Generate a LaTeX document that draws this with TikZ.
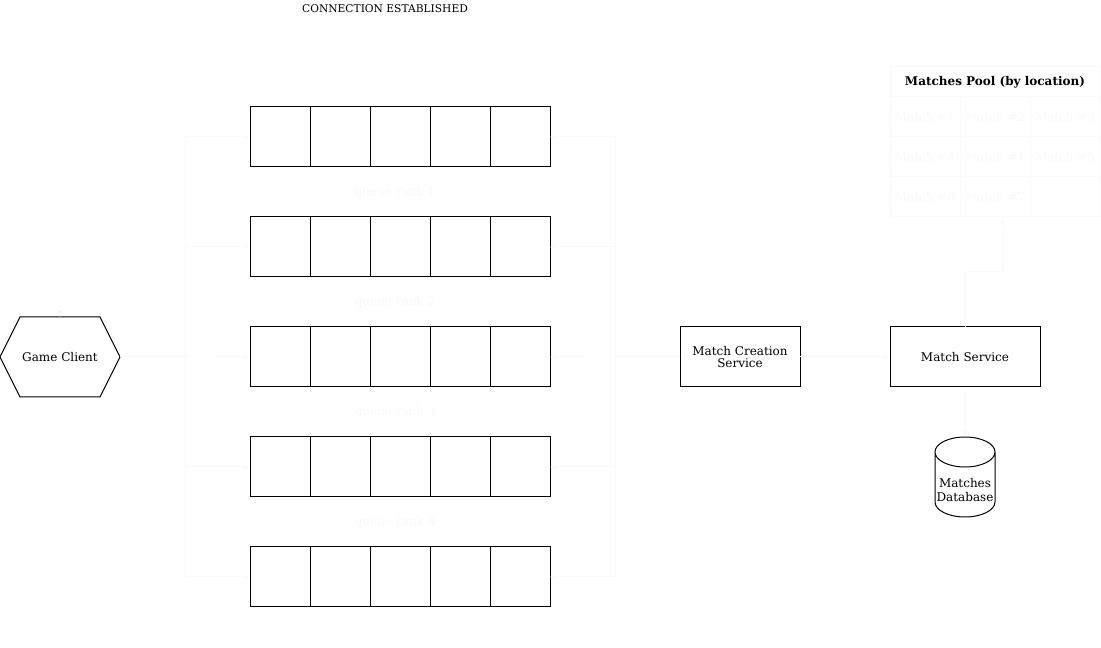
\documentclass[tikz,border=0pt]{standalone}
\usepackage{fontspec}
\setmainfont{DejaVu Serif}
\usetikzlibrary{arrows.meta}
\definecolor{faint}{RGB}{252,249,249}
\definecolor{fainttext}{RGB}{250,247,247}
\definecolor{dotcol}{RGB}{246,246,246}
\begin{document}
\begin{tikzpicture}[x=0.75pt,y=-0.75pt,
  cell/.style={draw=black, line width=0.75pt, minimum width=45pt, minimum height=45pt, inner sep=0pt, outer sep=0pt},
  box/.style={draw=black, line width=0.75pt, inner sep=0pt, outer sep=0pt, align=center, font=\fontsize{9}{9.5}\selectfont},
  plain/.style={inner sep=0pt, outer sep=0pt, align=center, font=\fontsize{9}{9.5}\selectfont},
  pcell/.style={draw=faint, line width=0.75pt, minimum width=52.5pt, minimum height=30pt, inner sep=0pt, outer sep=0pt, text=fainttext, font=\fontsize{9}{10}\selectfont},
  faintarrow/.style={draw=faint, line width=0.75pt, -{Stealth[length=6pt,width=5pt]}},
  qlabel/.style={text=fainttext, font=\fontsize{9}{10}\selectfont},
  conn/.style={draw=dotcol, line width=0.75pt, dotted, -{Stealth[length=6pt,width=5pt]}}
]
\useasboundingbox (0,0) rectangle (1101,648);

% Game Client hexagon
\node[plain, minimum width=90pt, minimum height=60pt] (gc) at (60,357) {Game Client};
\draw[line width=0.75pt] (gc.west) -- ([xshift=15pt]gc.north west) -- ([xshift=-15pt]gc.north east) -- (gc.east) -- ([xshift=-15pt]gc.south east) -- ([xshift=15pt]gc.south west) -- cycle;

% queues
\foreach \r/\y in {1/137,2/247,3/357,4/467,5/577} {
  \foreach \c in {1,...,5} {
    \node[cell] (q\r\c) at ({220+60*\c},\y) {};
  }
}

% queue labels
\node[qlabel] (ql1) at (395,192) {queue rank 1};
\node[qlabel] (ql2) at (395,302) {queue rank 2};
\node[qlabel] (ql3) at (395,412) {queue rank 3};
\node[qlabel] (ql4) at (395,522) {queue rank 4};

% services
\node[box, minimum width=90pt, minimum height=45pt] (mcs) at (740,357) {Match Creation\\Service};
\node[box, minimum width=112.5pt, minimum height=45pt] (ms) at (965,357) {Match Service};

% database cylinder
\node[plain, minimum width=45pt, minimum height=60pt, text depth=0pt] (db) at (965,477) {};
\draw[line width=0.75pt] ([yshift=-11.25pt]db.north west) -- ([yshift=11.25pt]db.south west)
  arc[start angle=180, end angle=360, x radius=22.5pt, y radius=11.25pt]
  -- ([yshift=-11.25pt]db.north east)
  arc[start angle=0, end angle=180, x radius=22.5pt, y radius=11.25pt]
  arc[start angle=180, end angle=360, x radius=22.5pt, y radius=11.25pt];
\node[plain, font=\fontsize{9}{10.5}\selectfont] (dbt) at (965,490) {Matches\\Database};

% matches pool table
\node[draw=faint, line width=0.75pt, minimum width=157.5pt, minimum height=22.5pt, inner sep=0pt, font=\bfseries\fontsize{9}{10}\selectfont] (ph) at (995,82) {Matches Pool (by location)};
\node[pcell] (p11) at (925,117) {Match \#1};
\node[pcell] (p12) at (995,117) {Match \#2};
\node[pcell] (p13) at (1065,117) {Match \#3};
\node[pcell] (p21) at (925,157) {Match \#4};
\node[pcell] (p22) at (995,157) {Match \#1};
\node[pcell] (p23) at (1065,157) {Match \#5};
\node[pcell] (p31) at (925,197) {Match \#6};
\node[pcell] (p32) at (995,197) {Match \#7};
\node[pcell] (p33) at (1065,197) {};

% faint connectors: client -> queues
\foreach \r in {1,...,5} {
  \draw[faintarrow] (gc.east) -- ++(65,0) |- (q\r1.west);
  \draw[faintarrow] (mcs.west) -- ++(-65,0) |- (q\r5.east);
}
\draw[faintarrow] (mcs.east) -- (ms.west);
\draw[faintarrow] (ms.south) -- (db.north);
\draw[faintarrow] (ms.north) -- ++(0,-55) -| ([xshift=6pt]p32.south);

% dotted connection established
\draw[conn] ([xshift=-11.25pt]ph.north) -- ++(0,-60) -| (gc.north);
\node[fill=white, inner sep=1pt, font=\fontsize{8}{9}\selectfont] (ce) at (385,9) {CONNECTION ESTABLISHED};
\end{tikzpicture}
\end{document}
